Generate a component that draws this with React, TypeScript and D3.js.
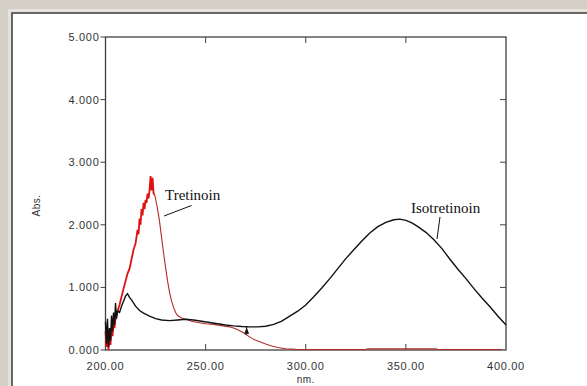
import React from "react";
import * as d3 from "d3";

// Isotretinoin spectrum (black)
const isoNm = [200, 200.5, 201, 201.5, 202, 202.5, 203, 203.5, 204, 204.5, 205, 205.5, 206, 207, 208, 209, 210, 211, 212, 213, 215, 217, 219, 222, 225, 228, 232, 236, 240, 244, 248, 252, 256, 260, 264, 268, 272, 276, 280, 284, 288, 292, 296, 300, 304, 308, 312, 316, 320, 324, 328, 332, 336, 340, 344, 347, 350, 353, 356, 360, 364, 368, 372, 376, 380, 384, 388, 392, 396, 400];
const isoAbs = [0.45, 0.1, 0.5, 0.05, 0.35, 0.15, 0.55, 0.3, 0.6, 0.4, 0.75, 0.5, 0.62, 0.6, 0.7, 0.78, 0.86, 0.9, 0.84, 0.8, 0.7, 0.63, 0.59, 0.54, 0.5, 0.48, 0.47, 0.48, 0.49, 0.48, 0.46, 0.44, 0.42, 0.4, 0.385, 0.375, 0.37, 0.37, 0.38, 0.41, 0.46, 0.54, 0.62, 0.72, 0.85, 0.99, 1.14, 1.3, 1.46, 1.6, 1.74, 1.87, 1.97, 2.04, 2.08, 2.09, 2.07, 2.03, 1.97, 1.88, 1.76, 1.62, 1.45, 1.29, 1.14, 0.98, 0.83, 0.69, 0.54, 0.4];

// Tretinoin spectrum (red)
const treNm = [200, 200.5, 201, 201.5, 202, 202.5, 203, 203.5, 204, 204.5, 205, 206, 207, 208, 209, 210, 211, 212, 213, 214, 215, 216, 216.5, 217, 217.5, 218, 218.5, 219, 219.5, 220, 220.5, 221, 221.5, 222, 222.5, 223, 223.5, 224, 224.5, 225, 226, 227, 228, 229, 230, 231, 232, 233, 234, 235, 236, 238, 240, 243, 246, 250, 254, 258, 262, 265, 268, 271, 274, 277, 280, 283, 286, 290, 295, 300, 330, 331, 365, 366, 398];
const treAbs = [0.3, 0.05, 0.2, 0.0, 0.25, 0.08, 0.35, 0.22, 0.42, 0.35, 0.5, 0.62, 0.72, 0.85, 0.98, 1.1, 1.22, 1.3, 1.45, 1.6, 1.7, 1.92, 1.85, 2.1, 2.0, 2.25, 2.15, 2.35, 2.25, 2.4, 2.35, 2.5, 2.42, 2.55, 2.78, 2.55, 2.75, 2.5, 2.48, 2.42, 2.25, 2.05, 1.8, 1.55, 1.32, 1.1, 0.92, 0.78, 0.68, 0.6, 0.55, 0.51, 0.49, 0.46, 0.44, 0.42, 0.41, 0.39, 0.37, 0.34, 0.29, 0.23, 0.17, 0.13, 0.095, 0.065, 0.04, 0.02, 0.01, 0.008, 0.008, 0.018, 0.018, 0.008, 0.008];

const yTicks = [0, 1, 2, 3, 4, 5];
const xTicks = [200, 250, 300, 350, 400];
const markerNm = 270.5;
const markerAbs = 0.37;

const W = 587;
const H = 386;

export default function App() {
  const x = d3.scaleLinear().domain([200, 400]).range([105.5, 506]);
  const y = d3.scaleLinear().domain([0, 5]).range([350, 37]);

  const line = d3
    .line<[number, number]>()
    .x((d) => x(d[0]))
    .y((d) => y(d[1]));

  const iso = isoNm.map((n, i) => [n, isoAbs[i]] as [number, number]);
  const tre = treNm.map((n, i) => [n, treAbs[i]] as [number, number]);
  const treRise = tre.filter((d) => d[0] <= 224.5);
  const treFall = tre.filter((d) => d[0] >= 224.5);

  const tickFont = "Arial, 'Liberation Sans', sans-serif";
  const [x0, x1] = x.range();
  const [yb, yt] = y.range();

  const mx = x(markerNm);
  const my = y(markerAbs);

  return (
    <svg width={W} height={H} style={{ position: "absolute", left: 0, top: 0 }}>
      <rect x={0} y={0} width={W} height={H} fill="#d4d0c8" />
      <rect x={8} y={9} width={W} height={H} fill="#e6e3dc" />
      <rect x={12} y={13} width={W + 10} height={H + 10} fill="#ffffff" stroke="#3a3a3a" strokeWidth={1.5} />

      {/* frame */}
      <rect x={x0} y={yt} width={x1 - x0} height={yb - yt} fill="none" stroke="#404040" strokeWidth={1.3} />

      {/* left ticks (outside) */}
      {yTicks.map((t) => (
        <g key={"yl" + t}>
          <line x1={x0 - 5} x2={x0} y1={y(t)} y2={y(t)} stroke="#404040" strokeWidth={1} />
          <text x={x0 - 6} y={y(t) + 4} textAnchor="end" fontSize={11} fontFamily={tickFont} fill="#333" letterSpacing={0.7}>
            {t.toFixed(3)}
          </text>
        </g>
      ))}
      {/* right ticks (inside) */}
      {yTicks.slice(1, -1).map((t) => (
        <line key={"yr" + t} x1={x1 - 6} x2={x1} y1={y(t)} y2={y(t)} stroke="#404040" strokeWidth={1} />
      ))}
      {/* bottom/top ticks (inside) */}
      {xTicks.slice(1, -1).map((t) => (
        <g key={"xt" + t}>
          <line x1={x(t)} x2={x(t)} y1={yb} y2={yb - 6} stroke="#404040" strokeWidth={1} />
          <line x1={x(t)} x2={x(t)} y1={yt} y2={yt + 6} stroke="#404040" strokeWidth={1} />
        </g>
      ))}
      {xTicks.map((t) => (
        <text key={"xl" + t} x={x(t)} y={370} textAnchor="middle" fontSize={11} fontFamily={tickFont} fill="#333" letterSpacing={0.7}>
          {t.toFixed(2)}
        </text>
      ))}

      <text x={(x0 + x1) / 2} y={383} textAnchor="middle" fontSize={10} fontFamily={tickFont} fill="#333" letterSpacing={0.5}>
        nm.
      </text>
      <text
        transform={`translate(40, ${(yb + yt) / 2 + 12}) rotate(-90)`}
        textAnchor="middle"
        fontSize={10}
        fontFamily={tickFont}
        fill="#333"
        letterSpacing={0.5}
      >
        Abs.
      </text>

      {/* series */}
      <path d={line(treFall) ?? ""} fill="none" stroke="#b52a2a" strokeWidth={1.1} />
      <path d={line(treRise) ?? ""} fill="none" stroke="#e01010" strokeWidth={1.8} />
      <path d={line(iso) ?? ""} fill="none" stroke="#111" strokeWidth={1.4} />

      {/* peak marker */}
      <line x1={mx} x2={mx} y1={my} y2={my + 8} stroke="#111" strokeWidth={1} />
      <path d={`M${mx},${my + 1} L${mx - 2.5},${my + 7} L${mx + 2.5},${my + 7} Z`} fill="#111" />

      {/* annotations */}
      <text x={165} y={200} fontSize={15} fontFamily="'Liberation Serif', 'Times New Roman', serif" fill="#111">
        Tretinoin
      </text>
      <line x1={191.5} y1={205.5} x2={164} y2={216} stroke="#111" strokeWidth={1} />
      <text x={411} y={213} fontSize={15} fontFamily="'Liberation Serif', 'Times New Roman', serif" fill="#111">
        Isotretinoin
      </text>
      <line x1={440} y1={217} x2={437} y2={239} stroke="#111" strokeWidth={1} />
    </svg>
  );
}
